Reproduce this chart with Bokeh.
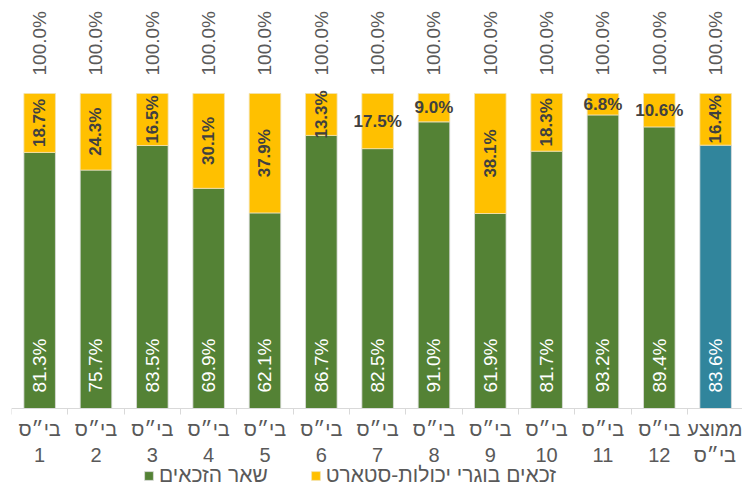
import math
from bokeh.plotting import figure
from bokeh.models import ColumnDataSource, Range1d, FixedTicker, Legend, LegendItem
from bokeh.core.properties import value
from bokeh.embed import file_html
from bokeh.resources import INLINE

# ---- data ----
tick_labels = ["בי״ס\n1", "בי״ס\n2", "בי״ס\n3", "בי״ס\n4", "בי״ס\n5", "בי״ס\n6",
               "בי״ס\n7", "בי״ס\n8", "בי״ס\n9", "בי״ס\n10", "בי״ס\n11", "בי״ס\n12",
               "ממוצע\nבי״ס"]
other_winners = [81.3, 75.7, 83.5, 69.9, 62.1, 86.7, 82.5, 91.0, 61.9, 81.7, 93.2, 89.4, 83.6]
start_grads = [18.7, 24.3, 16.5, 30.1, 37.9, 13.3, 17.5, 9.0, 38.1, 18.3, 6.8, 10.6, 16.4]
series_names = ["שאר הזכאים", "זכאים בוגרי יכולות-סטארט"]

# ---- styles ----
GREEN = "#548235"
TEAL = "#31859C"
YELLOW = "#FFC000"
FONT = value("Liberation Sans")
horizontal_label_idx = {6, 7, 10, 11}   # yellow labels drawn horizontally
average_idx = len(tick_labels) - 1

n = len(tick_labels)
xs = list(range(1, n + 1))
g = [v / 100 for v in other_winners]
s = [v / 100 for v in start_grads]
tot = [a + b for a, b in zip(g, s)]
src = ColumnDataSource(dict(
    x=xs,
    g=g,
    top=tot,
    mid=[a + b / 2 for a, b in zip(g, s)],
    gcolor=[TEAL if i == average_idx else GREEN for i in range(n)],
    glab=["%.1f%%" % v for v in other_winners],
    slab=["%.1f%%" % v for v in start_grads],
    tlab=["%.1f%%" % (a + b) for a, b in zip(other_winners, start_grads)],
    sang=[0 if i in horizontal_label_idx else math.pi / 2 for i in range(n)],
    zero=[0] * n,
))

PX = 315.0  # pixels per 100%
p = figure(width=742, height=487, output_backend="svg", toolbar_location=None,
           x_range=Range1d(0.5, 0.5 + 731 / 56.33),
           y_range=Range1d(-79 / PX, 408 / PX),
           min_border_left=11, min_border_right=0, min_border_top=0, min_border_bottom=0)
p.outline_line_color = None
p.grid.visible = False
p.yaxis.visible = False

W = 0.56
rg = p.vbar(x="x", bottom="zero", top="g", width=W, fill_color="gcolor",
            line_color="#dcdcdc", line_width=0.8, source=src)
ry = p.vbar(x="x", bottom="g", top="top", width=W, fill_color=YELLOW,
            line_color="#f2e2b0", line_width=0.8, source=src)

p.text(x="x", y="top", text="tlab", angle=math.pi / 2, y_offset=-18,
       text_align="left", text_baseline="middle", text_font=FONT,
       text_font_size="19px", text_color="#595959", source=src)
p.text(x="x", y="zero", text="glab", angle=math.pi / 2, y_offset=-16,
       text_align="left", text_baseline="middle", text_font=FONT,
       text_font_size="19px", text_color="white", source=src)
p.text(x="x", y="mid", text="slab", angle="sang",
       text_align="center", text_baseline="middle", text_font=FONT,
       text_font_size="17px", text_font_style="bold", text_color="#404040", source=src)

ax = p.xaxis[0]
ax.fixed_location = 0
ax.ticker = FixedTicker(ticks=xs, minor_ticks=[i + 0.5 for i in range(0, n + 1)])
ax.major_label_overrides = {x: lab for x, lab in zip(xs, tick_labels)}
ax.major_tick_line_color = None
ax.minor_tick_line_color = "#d9d9d9"
ax.minor_tick_out = 6
ax.minor_tick_in = 0
ax.axis_line_color = "#d9d9d9"
ax.major_label_text_font = "Liberation Sans"
ax.major_label_text_font_size = "20px"
ax.major_label_text_color = "#595959"
ax.major_label_standoff = 3

legend = Legend(items=[LegendItem(label=series_names[0], renderers=[rg], index=0),
                       LegendItem(label=series_names[1], renderers=[ry], index=0)],
                orientation="horizontal", location=(132, 0),
                glyph_width=11, glyph_height=11, label_standoff=5, spacing=42,
                padding=0, margin=0, border_line_color=None, background_fill_alpha=0,
                label_text_font="Liberation Sans", label_text_font_size="21px",
                label_text_color="#595959")
p.add_layout(legend)

open("out.html", "w").write(file_html(p, INLINE))
